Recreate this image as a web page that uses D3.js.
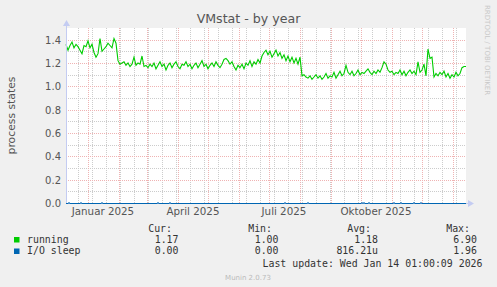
<!DOCTYPE html>
<html>
<head>
<meta charset="utf-8">
<script src="https://cdn.jsdelivr.net/npm/d3@7"></script>
<style>
  html, body { margin: 0; padding: 0; background: #f0f0f0; }
  svg { display: block; }
  text { font-family: "DejaVu Sans", sans-serif; }
  .mono { font-family: "DejaVu Sans Mono", monospace; }
</style>
</head>
<body>
<div id="graph"></div>
<script>
// one value every 2 days, starting at the left edge of the graph
var running = [
  1.36, 1.31, 1.35, 1.38, 1.33, 1.36, 1.34, 1.31, 1.28, 1.35, 1.34, 1.39, 1.33, 1.36, 1.29, 1.25, 1.28, 1.41, 1.30, 1.32,
  1.34, 1.37, 1.35, 1.33, 1.41, 1.37, 1.22, 1.19, 1.20, 1.21, 1.18, 1.20, 1.17, 1.19, 1.25, 1.18, 1.20, 1.19, 1.26, 1.17,
  1.18, 1.16, 1.19, 1.17, 1.20, 1.15, 1.18, 1.21, 1.17, 1.19, 1.14, 1.18, 1.20, 1.16, 1.19, 1.21, 1.17, 1.15, 1.19, 1.18,
  1.21, 1.17, 1.19, 1.15, 1.18, 1.20, 1.16, 1.19, 1.22, 1.17, 1.19, 1.15, 1.18, 1.20, 1.17, 1.21, 1.18, 1.16, 1.19, 1.23,
  1.24, 1.22, 1.19, 1.21, 1.17, 1.14, 1.18, 1.16, 1.19, 1.15, 1.20, 1.18, 1.22, 1.17, 1.21, 1.19, 1.23, 1.20, 1.26, 1.29,
  1.31, 1.27, 1.30, 1.25, 1.28, 1.31, 1.26, 1.29, 1.24, 1.27, 1.22, 1.26, 1.21, 1.25, 1.20, 1.24, 1.19, 1.25, 1.09, 1.10,
  1.08, 1.07, 1.09, 1.06, 1.08, 1.10, 1.07, 1.09, 1.06, 1.08, 1.11, 1.07, 1.09, 1.08, 1.12, 1.07, 1.10, 1.13, 1.09, 1.11,
  1.18, 1.12, 1.10, 1.13, 1.09, 1.11, 1.14, 1.10, 1.12, 1.11, 1.13, 1.15, 1.12, 1.10, 1.13, 1.11, 1.14, 1.12, 1.16, 1.21,
  1.19, 1.14, 1.12, 1.13, 1.10, 1.12, 1.11, 1.14, 1.10, 1.13, 1.09, 1.12, 1.14, 1.11, 1.13, 1.10, 1.21, 1.12, 1.14, 1.19,
  1.09, 1.32, 1.24, 1.25, 1.08, 1.11, 1.09, 1.12, 1.10, 1.13, 1.08, 1.11, 1.07, 1.10, 1.08, 1.12, 1.09, 1.11, 1.16, 1.17,
  1.17
];

// I/O sleep is zero except for a few tiny blips (days from the left edge)
var ioSleepDays = [3, 15, 36, 92, 104, 219, 242, 296, 298, 303, 328, 335, 348, 355];
var ioSleepValues = [0.01, 0.01, 0.01, 0.01, 0.01, 0.01, 0.01, 0.01, 0.01, 0.01, 0.01, 0.01, 0.01, 0.01];

var yTicks = [0.0, 0.2, 0.4, 0.6, 0.8, 1.0, 1.2, 1.4];
var xTickLabels = ["Januar 2025", "April 2025", "Juli 2025", "Oktober 2025"];
var xTickMonths = [new Date(2025, 0, 1), new Date(2025, 3, 1), new Date(2025, 6, 1), new Date(2025, 9, 1)];

var legendNames = ["running", "I/O sleep"];
var legendColors = ["#00cc00", "#0066b3"];
var legendCur = ["1.17", "0.00"];
var legendMin = ["1.00", "0.00"];
var legendAvg = ["1.18", "816.21u"];
var legendMax = ["6.90", "1.96"];

var endTime = new Date(2026, 0, 14, 1, 0, 9);
var startTime = d3.timeDay.offset(endTime, -400);

var W = 497, H = 287;
var plot = {left: 66, right: 466, top: 28, bottom: 203};

var svg = d3.select("#graph").append("svg")
    .attr("width", W)
    .attr("height", H);

svg.append("rect").attr("width", W).attr("height", H).attr("fill", "#f0f0f0");

var x = d3.scaleTime().domain([startTime, endTime]).range([plot.left, plot.right]);
var y = d3.scaleLinear().domain([0, 1.5]).range([plot.bottom, plot.top]);

function px(v) { return Math.round(v) + 0.5; }

svg.append("rect")
    .attr("x", plot.left).attr("y", plot.top)
    .attr("width", plot.right - plot.left).attr("height", plot.bottom - plot.top)
    .attr("fill", "#ffffff");

var grid = svg.append("g");
var minorColor = "#cccccc", majorColor = "#efb3b3";

// minor grid
var minorY = d3.range(0.1, 1.5, 0.2);
grid.selectAll(".hminor").data(minorY).enter().append("line")
    .attr("x1", plot.left).attr("x2", plot.right)
    .attr("y1", function(d) { return px(y(d)); })
    .attr("y2", function(d) { return px(y(d)); })
    .attr("stroke", minorColor).attr("stroke-dasharray", "1,1");

var minorX = d3.timeDay.range(new Date(2024, 11, 22), endTime, 14);
grid.selectAll(".vminor").data(minorX).enter().append("line")
    .attr("y1", plot.top).attr("y2", plot.bottom)
    .attr("x1", function(d) { return px(x(d)); })
    .attr("x2", function(d) { return px(x(d)); })
    .attr("stroke", minorColor).attr("stroke-dasharray", "1,1");

// major grid
grid.selectAll(".hmajor").data(yTicks.slice(1)).enter().append("line")
    .attr("x1", plot.left).attr("x2", plot.right)
    .attr("y1", function(d) { return px(y(d)); })
    .attr("y2", function(d) { return px(y(d)); })
    .attr("stroke", majorColor).attr("stroke-dasharray", "1,1");

var majorX = d3.timeMonth.range(startTime, endTime);
grid.selectAll(".vmajor").data(majorX).enter().append("line")
    .attr("y1", plot.top).attr("y2", plot.bottom)
    .attr("x1", function(d) { return px(x(d)); })
    .attr("x2", function(d) { return px(x(d)); })
    .attr("stroke", majorColor).attr("stroke-dasharray", "1,1");

// data lines
var runLine = d3.line()
    .x(function(d, i) { return x(d3.timeDay.offset(startTime, i * 2)); })
    .y(function(d) { return y(d); });

svg.append("path")
    .datum(running)
    .attr("d", runLine)
    .attr("fill", "none")
    .attr("stroke", "#00cc00")
    .attr("stroke-width", 1.1);

var ioPoints = [[0, 0]];
ioSleepDays.forEach(function(d, i) {
  ioPoints.push([d - 0.6, 0], [d, ioSleepValues[i]], [d + 0.6, 0]);
});
ioPoints.push([400, 0]);

var ioLine = d3.line()
    .x(function(d) { return x(d3.timeHour.offset(startTime, d[0] * 24)); })
    .y(function(d) { return y(d[1]) + 0.5; });

// axes
var axisColor = "#c4ccf2";
svg.append("line")
    .attr("x1", plot.left).attr("x2", plot.right + 2)
    .attr("y1", plot.bottom + 0.5).attr("y2", plot.bottom + 0.5)
    .attr("stroke", axisColor);
svg.append("line")
    .attr("x1", plot.left + 0.5).attr("x2", plot.left + 0.5)
    .attr("y1", plot.bottom + 1).attr("y2", plot.top - 3)
    .attr("stroke", axisColor);
svg.append("path")
    .attr("d", "M" + (plot.right + 2) + "," + (plot.bottom - 3) + "L" + (plot.right + 8) + "," + (plot.bottom + 0.5) +
      "L" + (plot.right + 2) + "," + (plot.bottom + 4) + "Z")
    .attr("fill", axisColor);
svg.append("path")
    .attr("d", "M" + (plot.left - 3) + "," + (plot.top - 2) + "L" + (plot.left + 0.5) + "," + (plot.top - 8) +
      "L" + (plot.left + 4) + "," + (plot.top - 2) + "Z")
    .attr("fill", axisColor);

svg.append("path")
    .datum(ioPoints)
    .attr("d", ioLine)
    .attr("fill", "none")
    .attr("stroke", "#0066b3")
    .attr("stroke-width", 1);

// tick labels
svg.selectAll(".ylab").data(yTicks).enter().append("text")
    .attr("x", 61)
    .attr("y", function(d) { return px(y(d)) + 3.5; })
    .attr("text-anchor", "end")
    .attr("font-size", "10px")
    .attr("fill", "#555")
    .text(function(d) { return d.toFixed(1); });

svg.selectAll(".xlab").data(xTickLabels).enter().append("text")
    .attr("x", function(d, i) { return x(d3.timeDay.offset(xTickMonths[i], 15)); })
    .attr("y", 215)
    .attr("text-anchor", "middle")
    .attr("font-size", "10.3px")
    .attr("fill", "#555")
    .text(function(d) { return d; });

// titles
svg.append("text")
    .attr("x", 248.5).attr("y", 23)
    .attr("text-anchor", "middle")
    .attr("font-size", "12.6px")
    .attr("fill", "#555")
    .text("VMstat - by year");

svg.append("text")
    .attr("transform", "translate(15," + ((plot.top + plot.bottom) / 2) + ") rotate(-90)")
    .attr("text-anchor", "middle")
    .attr("font-size", "10.8px")
    .attr("fill", "#555")
    .text("process states");

svg.append("text")
    .attr("transform", "translate(485,5) rotate(90)")
    .attr("font-size", "7px")
    .attr("fill", "#c8c8c8")
    .text("RRDTOOL / TOBI OETIKER");

// legend
var colX = [172, 272, 371, 470];
var heads = ["Cur:", "Min:", "Avg:", "Max:"];
svg.selectAll(".lhead").data(heads).enter().append("text")
    .attr("class", "mono")
    .attr("x", function(d, i) { return colX[i]; })
    .attr("y", 232)
    .attr("text-anchor", "end")
    .attr("font-size", "9.9px")
    .attr("fill", "#333")
    .text(function(d) { return d; });

var valX = [178.5, 278.5, 378, 477];
legendNames.forEach(function(name, i) {
  var by = 242.5 + i * 11.5;
  svg.append("rect")
      .attr("x", 14).attr("y", by - 5.5)
      .attr("width", 5.5).attr("height", 5.5)
      .attr("fill", legendColors[i]);
  svg.append("text")
      .attr("class", "mono")
      .attr("x", 27).attr("y", by)
      .attr("font-size", "9.9px")
      .attr("fill", "#333")
      .text(name);
  [legendCur[i], legendMin[i], legendAvg[i], legendMax[i]].forEach(function(v, j) {
    svg.append("text")
        .attr("class", "mono")
        .attr("x", valX[j]).attr("y", by)
        .attr("text-anchor", "end")
        .attr("font-size", "9.9px")
        .attr("fill", "#333")
        .text(v);
  });
});

svg.append("text")
    .attr("class", "mono")
    .attr("x", 482.5).attr("y", 266.5)
    .attr("text-anchor", "end")
    .attr("font-size", "9.9px")
    .attr("fill", "#333")
    .text("Last update: Wed Jan 14 01:00:09 2026");

svg.append("text")
    .attr("x", 248).attr("y", 280)
    .attr("text-anchor", "middle")
    .attr("font-size", "7px")
    .attr("fill", "#bbb")
    .text("Munin 2.0.73");
</script>
</body>
</html>
